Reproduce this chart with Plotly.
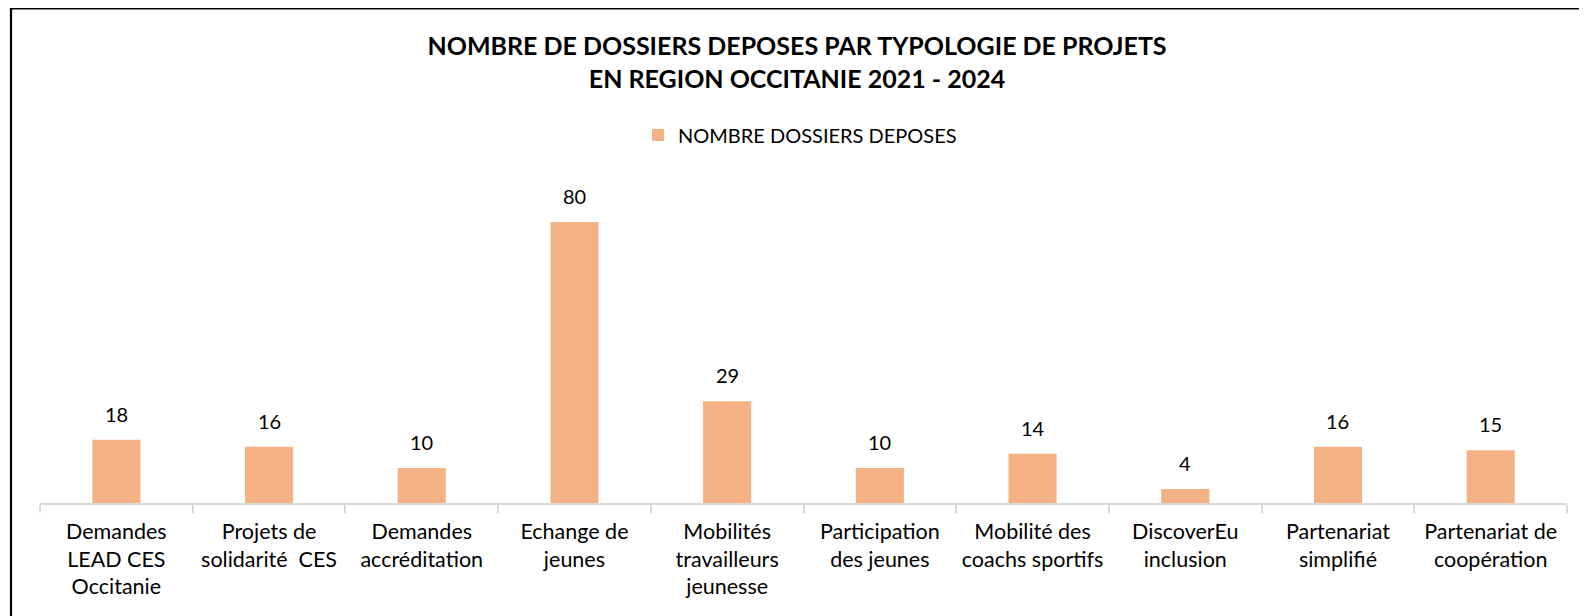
import plotly.graph_objects as go

categories = [
    "Demandes<br>LEAD CES<br>Occitanie",
    "Projets de<br>solidarité  CES",
    "Demandes<br>accréditation",
    "Echange de<br>jeunes",
    "Mobilités<br>travailleurs<br>jeunesse",
    "Participation<br>des jeunes",
    "Mobilité des<br>coachs sportifs",
    "DiscoverEu<br>inclusion",
    "Partenariat<br>simplifié",
    "Partenariat de<br>coopération",
]
values = [18, 16, 10, 80, 29, 10, 14, 4, 16, 15]
series_name = "NOMBRE DOSSIERS DEPOSES"
title_lines = ["NOMBRE DE DOSSIERS DEPOSES PAR TYPOLOGIE DE PROJETS",
               "EN REGION OCCITANIE 2021 - 2024"]

W, H = 1587, 616
ML, MR, MT, MB = 32, 28, 179, 121
FONT = "Lato"
BAR = "#F4B183"

fig = go.Figure()
fig.add_trace(go.Bar(
    x=categories, y=values, name=series_name,
    marker=dict(color=BAR, line=dict(width=0)),
    width=0.315, showlegend=True,
))

for c, v in zip(categories, values):
    fig.add_annotation(x=c, y=v, text=str(v), showarrow=False,
                       yshift=26, yanchor="middle",
                       font=dict(family=FONT, size=20, color="#000000"))

pw = W - ML - MR
ph = H - MT - MB
def px_x(x):
    return (x - ML) / pw
def px_y(y):
    return (H - MB - y) / ph

fig.add_shape(type="path", xref="paper", yref="paper",
              path=f"M {px_x(3)} {px_y(620)} L {px_x(3)} {px_y(0.5)} L {px_x(1600)} {px_y(0.5)}",
              line=dict(color="#000000", width=2.2))

fig.update_layout(
    width=W, height=H,
    margin=dict(l=ML, r=MR, t=MT, b=MB),
    paper_bgcolor="white", plot_bgcolor="white",
    font=dict(family=FONT, color="#000000"),
    title=dict(text="<br>".join(f"<b>{t}</b>" for t in title_lines),
               x=789 / W, xanchor="center", xref="container",
               y=1 - 47 / H, yanchor="middle", yref="container",
               font=dict(family=FONT, size=25, color="#000000")),
    legend=dict(orientation="h", xref="container", yref="container",
                x=792 / W, xanchor="center", y=1 - 127 / H, yanchor="middle",
                font=dict(family=FONT, size=20, color="#000000"),
                itemsizing="constant", bgcolor="rgba(0,0,0,0)"),
    bargap=0.685,
    xaxis=dict(showline=True, linecolor="#D9D9D9", linewidth=1.5,
               ticks="outside", tickson="boundaries", ticklen=8,
               tickcolor="#D9D9D9", tickwidth=1.5, ticklabelstandoff=8,
               tickfont=dict(family=FONT, size=21.5, color="#000000"),
               showgrid=False, zeroline=False, fixedrange=True),
    yaxis=dict(range=[0, 90], visible=False, showgrid=False, zeroline=False),
)

fig.write_html("out.html")
